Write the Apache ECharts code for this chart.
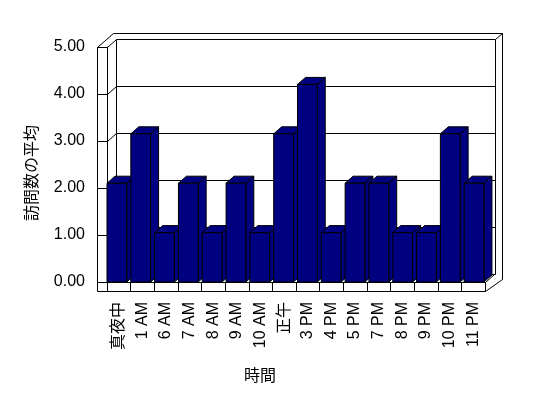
<!DOCTYPE html>
<html>
<head>
<meta charset="utf-8">
<script src="https://cdn.jsdelivr.net/npm/echarts@6/dist/echarts.min.js"></script>
<style>
html,body{margin:0;padding:0;background:#fff;}
#chart{width:548px;height:398px;}
</style>
</head>
<body>
<div id="chart"></div>
<script>
// 時間帯ごとの訪問数の平均
var hours = ['真夜中','1 AM','6 AM','7 AM','8 AM','9 AM','10 AM','正午','3 PM','4 PM','5 PM','7 PM','8 PM','9 PM','10 PM','11 PM'];
var avgVisits = [2,3,1,2,1,2,1,3,4,1,2,2,1,1,3,2];
var gridValues = [1,2,3,4];

var font = '"Liberation Sans", "Noto Sans CJK JP", sans-serif';
var navy = '#000080';
var lineStyle = {stroke:'#000', fill:null, lineWidth:1};

function px(v){ return Math.round(v) + 0.5; }
function pl(points){
	return {type:'polyline', shape:{points:points.map(function(p){return [px(p[0]), px(p[1])];})}, style:lineStyle, silent:true};
}

// 壁・床・奥の目盛線
function renderFrame(params, api){
	var cs = params.coordSys;
	var L = cs.x, R = cs.x + cs.width, T = cs.y, B = cs.y + cs.height;
	var kids = [
		pl([[L+6,T-14],[R+17,T-14],[R+17,B-3]]),
		pl([[L+9,B-8],[L+9,T-8],[R+10,T-8],[R+10,B-8]]),
		pl([[R+10,T-8],[R+17,T-14]]),
		pl([[L,T],[L-10,T],[L-10,B+9],[R,B+9],[R,B]]),
		pl([[L-10,T],[L+6,T-14]]),
		pl([[L,T],[L+9,T-8]]),
		pl([[L,B],[L+9,B-8],[R+10,B-8]]),
		pl([[R,B],[R+9,B-8]]),
		pl([[R,B+9],[R+17,B-3]])
	];
	gridValues.forEach(function(v){
		var y = api.coord([0, v])[1];
		kids.push(pl([[L,y],[L+9,y-8],[R+10,y-8]]));
	});
	return {type:'group', children:kids};
}

// 立体の棒
function renderBar(params, api){
	var i = api.value(0), v = api.value(1);
	var top = api.coord([i, v]);
	var base = api.coord([i, 0]);
	var bw = api.size([1, 0])[0];
	var x0 = top[0] - bw / 2, x1 = x0 + bw * 0.83;
	var y0 = top[1], y1 = base[1];
	var dx = 8, dy = -7;
	var st = {fill:navy, stroke:'#000', lineWidth:1};
	return {type:'group', children:[
		{type:'polygon', shape:{points:[[x1,y1],[x1,y0],[x1+dx,y0+dy],[x1+dx,y1+dy]]}, style:st},
		{type:'polygon', shape:{points:[[x0,y0],[x0+dx,y0+dy],[x1+dx,y0+dy],[x1,y0]]}, style:st},
		{type:'rect', shape:{x:x0, y:y0, width:x1-x0, height:y1-y0}, style:st}
	]};
}

var chart = echarts.init(document.getElementById('chart'));
chart.setOption({
	animation:false,
	backgroundColor:'#fff',
	grid:[
		{left:107, right:63, top:47, bottom:116},
		{left:107, right:60, top:35, bottom:116}
	],
	xAxis:[
		{
			type:'category', gridIndex:0, data:hours,
			axisLine:{lineStyle:{color:'#000', width:1}},
			axisTick:{show:true, length:9, interval:0, lineStyle:{color:'#000'}},
			axisLabel:{rotate:90, interval:0, margin:20, color:'#000', fontSize:16, fontFamily:font}
		},
		{type:'category', gridIndex:1, data:hours, show:false}
	],
	yAxis:[
		{
			type:'value', gridIndex:0, min:0, max:5, interval:1,
			axisLine:{show:true, lineStyle:{color:'#000', width:1}},
			axisTick:{show:true, length:10, lineStyle:{color:'#000'}},
			splitLine:{show:false},
			axisLabel:{margin:22, color:'#000', fontSize:16, fontFamily:font,
				formatter:function(v){ return v.toFixed(2); }}
		},
		{type:'value', gridIndex:1, min:0, max:5, show:false}
	],
	graphic:[
		{type:'text', x:33, y:173, rotation:Math.PI/2,
			style:{text:'訪問数の平均', fill:'#000', font:'16px ' + font, align:'center', verticalAlign:'middle'}},
		{type:'text', x:260, y:377,
			style:{text:'時間', fill:'#000', font:'16px ' + font, align:'center', verticalAlign:'middle'}}
	],
	series:[
		{type:'custom', xAxisIndex:0, yAxisIndex:0, z:1, silent:true, data:[[0,0]], renderItem:renderFrame},
		{type:'custom', name:'訪問数の平均', xAxisIndex:1, yAxisIndex:1, z:3, data:avgVisits.map(function(v,i){return [i,v];}), renderItem:renderBar}
	]
});
</script>
</body>
</html>
